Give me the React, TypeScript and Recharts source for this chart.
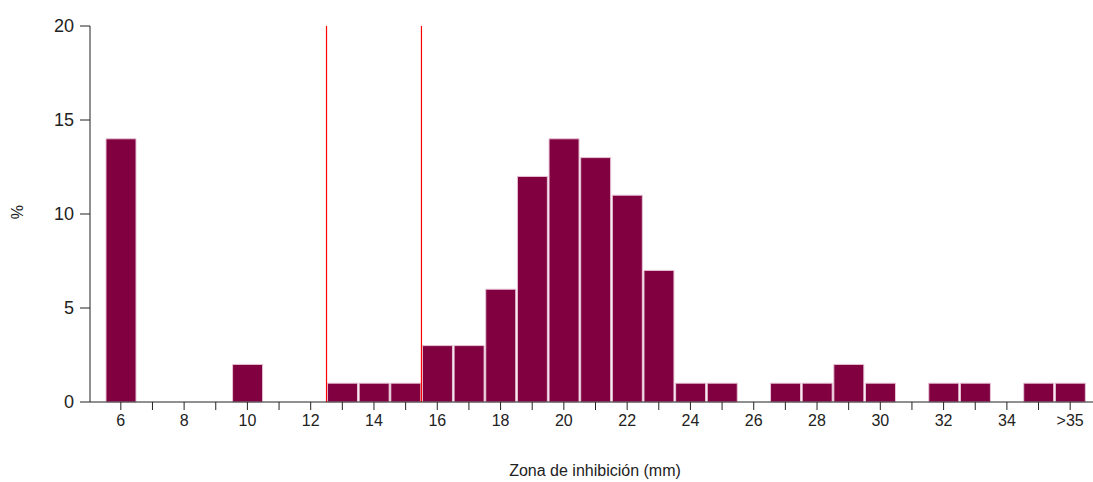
import React from 'react';
import { BarChart, Bar, XAxis, YAxis, ReferenceLine, Label } from 'recharts';

const categories = ['6','7','8','9','10','11','12','13','14','15','16','17','18','19','20','21','22','23','24','25','26','27','28','29','30','31','32','33','34','35','>35'];
const values = [14,0,0,0,2,0,0,1,1,1,3,3,6,12,14,13,11,7,1,1,0,1,1,2,1,0,1,1,0,1,1];
const yTicks = [0, 5, 10, 15, 20];
const breakpoints = ['13', '16']; // lines drawn at the start of these categories (12.5 and 15.5 mm)

const data = categories.map((c, i) => ({ zone: c, pct: values[i] }));

const FONT = '"Liberation Sans", Arial, sans-serif';
const AXIS = '#222';

const XTick = (props: any) => {
  const { x, y, payload, index } = props;
  if (index % 2 !== 0) return <g />;
  return (
    <text x={x} y={y} dy={14} textAnchor="middle" fill="#222" fontSize={16} fontFamily={FONT}>
      {payload.value}
    </text>
  );
};

export default function App() {
  return (
    <div style={{ position: 'absolute', left: 0, top: 0, width: 1093, height: 482, background: '#fff' }}>
      <BarChart
        width={1093}
        height={482}
        data={data}
        margin={{ top: 26, right: 0, bottom: 0, left: 0 }}
        barCategoryGap={1}
      >
        <XAxis
          dataKey="zone"
          interval={0}
          height={80}
          padding={{ left: 15, right: 7 }}
          tickSize={8}
          tickMargin={2}
          tick={<XTick />}
          axisLine={{ stroke: AXIS }}
          tickLine={{ stroke: AXIS }}
        >
          <Label
            content={() => (
              <text x={595} y={476} textAnchor="middle" fill="#222" fontSize={16} fontFamily={FONT}>
                Zona de inhibición (mm)
              </text>
            )}
          />
        </XAxis>
        <YAxis
          width={90}
          domain={[0, 20]}
          ticks={yTicks}
          interval={0}
          tickSize={10}
          tickMargin={6}
          axisLine={{ stroke: AXIS }}
          tickLine={{ stroke: AXIS }}
          tick={{ fill: '#222', fontSize: 18, fontFamily: FONT }}
        >
          <Label
            content={() => (
              <text
                x={17}
                y={212}
                textAnchor="middle"
                dominantBaseline="central"
                transform="rotate(-90 17 212)"
                fill="#222"
                fontSize={16}
                fontFamily={FONT}
              >
                %
              </text>
            )}
          />
        </YAxis>
        <Bar dataKey="pct" fill="#800040" stroke="#e8c4d6" strokeWidth={1} isAnimationActive={false} />
        {breakpoints.map((b) => (
          <ReferenceLine key={b} x={b} position="start" stroke="#ff0000" strokeWidth={1.2} />
        ))}
      </BarChart>
    </div>
  );
}
